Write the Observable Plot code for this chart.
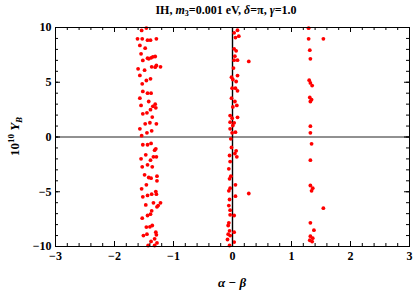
<!DOCTYPE html>
<html><head><meta charset="utf-8">
<script src="https://cdn.jsdelivr.net/npm/d3@7"></script>
<script src="https://cdn.jsdelivr.net/npm/@observablehq/plot@0.6"></script>
<style>body{margin:0;background:#fff} svg{display:block}</style>
</head><body><div id="chart"></div>
<script>
// alpha - beta values and 10^10 Y_B values
const alphaBeta = [
  // cluster near -1.45 (upper half)
  -1.54,-1.46,-1.61,-1.53,-1.44,-1.39,-1.29,-1.57,-1.48,-1.55,-1.42,-1.35,-1.31,-1.38,-1.52,-1.44,
  -1.60,-1.49,-1.37,-1.29,-1.22,-1.31,-1.57,-1.46,-1.39,-1.53,-1.52,-1.44,-1.38,-1.57,-1.42,-1.55,
  -1.31,-1.35,-1.30,-1.39,-1.45,-1.52,-1.36,-1.48,-1.40,-1.29,-1.57,-1.45,-1.37,-1.54,
  // cluster near -1.45 (lower half)
  -1.52,-1.44,-1.38,-1.30,-1.32,-1.55,-1.47,-1.39,-1.34,-1.29,-1.53,-1.44,-1.36,-1.49,-1.42,-1.38,
  -1.28,-1.28,-1.46,-1.54,-1.30,-1.37,-1.44,-1.52,-1.29,-1.34,-1.26,-1.22,-1.47,-1.37,-1.28,-1.44,
  -1.39,-1.53,-1.36,-1.40,-1.46,-1.51,-1.30,-1.29,-1.32,-1.38,-1.28,-1.43,-1.32,-1.45,
  // cluster near 0 (upper half)
  0.085,0.028,0.107,0.05,0.028,0.062,0.04,0.085,0.028,0.276,0.017,-0.017,0.085,0.006,0.062,-0.006,
  0.05,0.085,-0.017,0.04,0.073,0.006,-0.04,-0.006,0.085,-0.04,0.028,0.006,-0.04,0.05,-0.006,
  // cluster near 0 (lower half)
  -0.028,-0.017,0.062,0.04,0.073,-0.05,-0.04,-0.062,-0.028,-0.05,0.05,-0.04,-0.062,0.05,0.276,-0.05,
  -0.062,-0.04,-0.04,0.028,-0.062,-0.073,-0.05,-0.073,0.028,-0.085,-0.05,0.028,-0.04,
  // cluster near 1.3
  1.29,1.29,1.54,1.31,1.32,1.30,1.32,1.35,1.31,1.34,1.32,1.32,1.32,1.34,1.32,1.32,1.36,1.34,1.54,
  1.32,1.38,1.32,1.36,1.31,1.35
];
const yB = [
  9.73,9.95,8.97,8.97,8.84,8.84,8.97,8.36,8.11,7.6,7.14,7.32,7.35,7.23,6.99,7.2,
  6.23,6.1,6.41,6.53,6.41,6.38,5.62,5.16,5.31,4.86,4.16,4.0,4.0,3.55,3.24,2.88,
  3.0,2.8,2.66,2.5,2.21,2.12,1.82,1.2,1.3,1.2,0.75,0.38,0.56,0.12,
  -0.71,-0.71,-0.59,-1.08,-1.2,-1.99,-1.63,-2.12,-1.81,-1.81,-2.72,-2.54,-2.72,-3.45,-3.7,-3.76,
  -3.58,-4.0,-4.37,-4.73,-4.98,-5.22,-5.34,-5.46,-5.22,-6.01,-6.26,-6.01,-6.2,-6.74,-6.38,-7.17,
  -7.05,-7.41,-8.08,-8.2,-8.23,-9.0,-8.69,-8.93,-9.3,-9.54,-9.67,-9.91,-9.91,-8.87,
  9.75,9.51,9.21,9.08,8.05,7.87,7.38,7.02,7.02,6.9,6.29,5.46,5.61,5.25,5.07,4.46,
  4.46,4.22,3.55,3.24,2.88,2.75,1.96,1.72,1.8,1.35,1.29,1.05,0.75,0.44,0.38,
  -0.17,-0.96,-1.26,-1.51,-1.81,-1.69,-2.24,-2.91,-3.58,-3.82,-4.37,-4.67,-4.92,-5.4,-5.16,-5.71,
  -6.26,-6.68,-7.11,-7.17,-7.84,-8.08,-8.57,-8.87,-8.69,-9.36,-9.91,-9.6,-9.0,
  9.94,8.97,8.97,7.93,7.14,5.19,4.94,4.7,3.61,3.42,3.24,0.99,0.38,-0.62,-2.12,-4.43,-4.67,-4.92,-6.5,
  -7.84,-8.51,-9.06,-9.24,-9.43,-9.55
];
const xTicks = [-3,-2,-1,0,1,2,3];
const yTicks = [-10,-5,0,5,10];
const xMinor = d3.range(-3, 3.0001, 0.2);
const yMinor = d3.range(-10, 10.0001, 1);

const points = alphaBeta.map((a, i) => ({a, y: yB[i]}));

const W = 415, H = 292, mL = 55, mR = 6, mT = 27, mB = 46;
const innerW = W - mL - mR, innerH = H - mT - mB;
const minorLen = 3, majorLen = 5;
const fmt = d => d < 0 ? "\u2212" + (-d) : String(d);

const plot = Plot.plot({
  width: W, height: H,
  marginLeft: mL, marginRight: mR, marginTop: mT, marginBottom: mB,
  style: {fontFamily: "'Liberation Serif', 'Times New Roman', serif", fontSize: "12px", background: "white", color: "black"},
  x: {domain: [-3, 3]},
  y: {domain: [-10, 10]},
  marks: [
    Plot.ruleY([0], {stroke: "#222", strokeWidth: 1}),
    Plot.ruleX([0], {stroke: "black", strokeWidth: 1.4}),
    Plot.dot(points, {x: "a", y: "y", r: 1.9, fill: "#ff0000", stroke: "none"}),
    // inward ticks, bottom & top
    Plot.tickX(xMinor, {x: d => d, insetTop: innerH - minorLen, stroke: "black"}),
    Plot.tickX(xMinor, {x: d => d, insetBottom: innerH - minorLen, stroke: "black"}),
    Plot.tickX(xTicks, {x: d => d, insetTop: innerH - majorLen, stroke: "black"}),
    Plot.tickX(xTicks, {x: d => d, insetBottom: innerH - majorLen, stroke: "black"}),
    // inward ticks, left & right
    Plot.tickY(yMinor, {y: d => d, insetRight: innerW - minorLen, stroke: "black"}),
    Plot.tickY(yMinor, {y: d => d, insetLeft: innerW - minorLen, stroke: "black"}),
    Plot.tickY(yTicks, {y: d => d, insetRight: innerW - majorLen, stroke: "black"}),
    Plot.tickY(yTicks, {y: d => d, insetLeft: innerW - majorLen, stroke: "black"}),
    Plot.frame({stroke: "black", strokeWidth: 1}),
    Plot.axisX(xTicks, {anchor: "bottom", tickSize: 0, tickPadding: 5, tickFormat: fmt, label: null, fontWeight: "bold", fontSize: 12}),
    Plot.axisY(yTicks, {anchor: "left", tickSize: 0, tickPadding: 4, tickFormat: fmt, label: null, fontWeight: "bold", fontSize: 12})
  ]
});

const svg = d3.select(plot);
// title
const title = svg.append("text")
  .attr("x", 226).attr("y", 14)
  .attr("text-anchor", "middle")
  .attr("font-weight", "bold").attr("font-size", 12).attr("fill", "black");
title.append("tspan").text("IH, ");
title.append("tspan").attr("font-style", "italic").text("m");
title.append("tspan").attr("font-size", 8).attr("dy", 2).text("3");
title.append("tspan").attr("dy", -2).text("=0.001 eV, ");
title.append("tspan").attr("font-style", "italic").text("\u03b4");
title.append("tspan").text("=\u03c0, ");
title.append("tspan").attr("font-style", "italic").text("\u03b3");
title.append("tspan").text("=1.0");

// x label
svg.append("text")
  .attr("x", (mL + W - mR) / 2).attr("y", 287)
  .attr("text-anchor", "middle")
  .attr("font-style", "italic").attr("font-weight", "bold").attr("font-size", 13).attr("fill", "black")
  .text("\u03b1 \u2212 \u03b2");

// y label
const yl = svg.append("text")
  .attr("transform", `translate(19,${mT + innerH / 2}) rotate(-90)`)
  .attr("text-anchor", "middle")
  .attr("font-weight", "bold").attr("font-size", 13).attr("fill", "black");
yl.append("tspan").text("10");
yl.append("tspan").attr("font-size", 9).attr("dy", -5).text("10");
yl.append("tspan").attr("dy", 5).text(" ");
yl.append("tspan").attr("font-style", "italic").text("Y");
yl.append("tspan").attr("font-style", "italic").attr("font-size", 9).attr("dy", 3).text("B");

document.getElementById("chart").appendChild(plot);
</script>
</body></html>
